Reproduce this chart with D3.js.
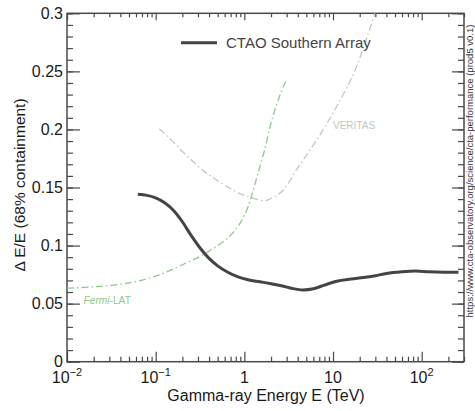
<!DOCTYPE html>
<html>
<head>
<meta charset="utf-8">
<script src="https://cdn.jsdelivr.net/npm/d3@7"></script>
<style>
  html, body { margin: 0; padding: 0; background: #fff; }
  svg { display: block; font-family: "Liberation Sans", Arial, sans-serif; }
</style>
</head>
<body>
<svg id="chart" width="475" height="411"></svg>
<script>
// ---------- data ----------
const ctaoEnergy = [0.063, 0.08, 0.1, 0.125, 0.16, 0.2, 0.25, 0.32, 0.4, 0.5, 0.65, 0.85, 1.1, 1.5, 2.0, 2.7, 3.5, 4.6, 6.0, 8.0, 11, 16, 22, 30, 40, 60, 85, 120, 180, 260];
const ctaoRes    = [0.1441, 0.1432, 0.1410, 0.1370, 0.1300, 0.1205, 0.1090, 0.0975, 0.0890, 0.0825, 0.0770, 0.0730, 0.0705, 0.0688, 0.0672, 0.0652, 0.0630, 0.0618, 0.0628, 0.0660, 0.0693, 0.0712, 0.0725, 0.0740, 0.0760, 0.0775, 0.0781, 0.0775, 0.0771, 0.0770];

const fermiEnergy = [0.01, 0.02, 0.035, 0.05, 0.08, 0.11, 0.16, 0.22, 0.28, 0.38, 0.5, 0.63, 0.8, 0.9, 1.0, 1.1, 1.2, 1.38, 1.5, 1.7, 1.95, 2.4, 2.94];
const fermiRes    = [0.0633, 0.0645, 0.0662, 0.0678, 0.0715, 0.0748, 0.0800, 0.0850, 0.0885, 0.0940, 0.1000, 0.1055, 0.1140, 0.1195, 0.1260, 0.1335, 0.1420, 0.1585, 0.1680, 0.1830, 0.2024, 0.2250, 0.2420];

const veritasEnergy = [0.11, 0.15, 0.2, 0.265, 0.35, 0.487, 0.7, 0.9, 1.156, 1.5, 1.7, 2.0, 2.75, 4.0, 6.53, 10.96, 18.4, 29.6];
const veritasRes    = [0.2003, 0.1910, 0.1810, 0.1722, 0.1640, 0.1565, 0.1490, 0.1445, 0.1416, 0.1392, 0.1386, 0.1405, 0.1479, 0.1670, 0.1909, 0.2196, 0.2540, 0.3000];

const xMajorTicks = [0.01, 0.1, 1, 10, 100];
const xTickBase   = ["10", "10", "1", "10", "10"];
const xTickExp    = ["\u22122", "\u22121", "", "", "2"];
const xMinorTicks = [];
[0.01, 0.1, 1, 10, 100].forEach(d => { for (let k = 2; k <= 9; k++) if (d * k <= 300) xMinorTicks.push(d * k); });

const yMajorTicks = [0, 0.05, 0.1, 0.15, 0.2, 0.25, 0.3];
const yTickLabels = ["0", "0.05", "0.1", "0.15", "0.2", "0.25", "0.3"];
const yMinorTicks = d3.range(0, 0.3001, 0.01).map(v => +v.toFixed(2));

const legendLabel = "CTAO Southern Array";
const xTitle = "Gamma-ray Energy E (TeV)";
const yTitle = "\u0394 E/E (68% containment)";
const sourceNote = "https://www.cta-observatory.org/science/cta-performance (prod5 v0.1)";

// ---------- layout ----------
const L = 67, R = 464, T = 13.3, B = 361.7;
const svg = d3.select("#chart");
const x = d3.scaleLog().domain([0.01, 300]).range([L, R]);
const y = d3.scaleLinear().domain([0, 0.3]).range([B, T]);

const axisColor = "#4a4a4a";

// clip
svg.append("clipPath").attr("id", "clip")
  .append("rect").attr("x", L).attr("y", T).attr("width", R - L).attr("height", B - T);

// axes (ticks inward)
function styleAxis(g) {
  g.select(".domain").remove();
  g.selectAll("line").attr("stroke", axisColor).attr("stroke-width", 1.2);
  g.selectAll("text").remove();
}
svg.append("g").attr("transform", `translate(0,${B})`)
  .call(d3.axisBottom(x).tickValues(xMajorTicks).tickSize(-10).tickFormat("")).call(styleAxis);
svg.append("g").attr("transform", `translate(0,${B})`)
  .call(d3.axisBottom(x).tickValues(xMinorTicks).tickSize(-5).tickFormat("")).call(styleAxis);
svg.append("g").attr("transform", `translate(0,${T})`)
  .call(d3.axisTop(x).tickValues(xMajorTicks).tickSize(-7).tickFormat("")).call(styleAxis);
svg.append("g").attr("transform", `translate(0,${T})`)
  .call(d3.axisTop(x).tickValues(xMinorTicks).tickSize(-4).tickFormat("")).call(styleAxis);
svg.append("g").attr("transform", `translate(${L},0)`)
  .call(d3.axisLeft(y).tickValues(yMajorTicks).tickSize(-13).tickFormat("")).call(styleAxis);
svg.append("g").attr("transform", `translate(${L},0)`)
  .call(d3.axisLeft(y).tickValues(yMinorTicks).tickSize(-6).tickFormat("")).call(styleAxis);
svg.append("g").attr("transform", `translate(${R},0)`)
  .call(d3.axisRight(y).tickValues(yMajorTicks).tickSize(-12).tickFormat("")).call(styleAxis);
svg.append("g").attr("transform", `translate(${R},0)`)
  .call(d3.axisRight(y).tickValues(yMinorTicks).tickSize(-6).tickFormat("")).call(styleAxis);

// frame
svg.append("rect").attr("x", L).attr("y", T).attr("width", R - L).attr("height", B - T)
  .attr("fill", "none").attr("stroke", axisColor).attr("stroke-width", 1.5);

// tick labels
svg.append("g").selectAll("text").data(yMajorTicks).join("text")
  .attr("x", L - 4).attr("y", d => y(d)).attr("dy", "0.35em")
  .attr("text-anchor", "end").attr("font-size", 16).attr("fill", "#1a1a1a")
  .text((d, i) => yTickLabels[i]);

const xl = svg.append("g").selectAll("text").data(xMajorTicks).join("text")
  .attr("x", d => x(d)).attr("y", 383)
  .attr("text-anchor", "middle").attr("font-size", 16).attr("fill", "#1a1a1a");
xl.append("tspan").text((d, i) => xTickBase[i]);
xl.append("tspan").attr("dy", -7).attr("font-size", 11).text((d, i) => xTickExp[i]);

// titles
svg.append("text").attr("x", 266).attr("y", 401).attr("text-anchor", "middle")
  .attr("font-size", 16).attr("fill", "#1a1a1a").text(xTitle);
svg.append("text").attr("transform", "translate(25,185) rotate(-90)").attr("text-anchor", "middle")
  .attr("font-size", 15.5).attr("fill", "#1a1a1a").text(yTitle);
svg.append("text").attr("transform", "translate(473,171) rotate(-90)").attr("text-anchor", "middle")
  .attr("font-size", 9.5).attr("fill", "#333").text(sourceNote);

// curves
const line = (xs, ys) => d3.line().curve(d3.curveMonotoneX)
  .x((d, i) => x(xs[i])).y((d, i) => y(ys[i]))(xs);
const plot = svg.append("g").attr("clip-path", "url(#clip)");

plot.append("path").attr("d", line(veritasEnergy, veritasRes))
  .attr("fill", "none").attr("stroke", "#bccabf").attr("stroke-width", 1.3)
  .attr("stroke-dasharray", "7,3,1.5,3");
plot.append("path").attr("d", line(fermiEnergy, fermiRes))
  .attr("fill", "none").attr("stroke", "#8fc78f").attr("stroke-width", 1.3)
  .attr("stroke-dasharray", "7,3,1.5,3");
plot.append("path").attr("d", line(ctaoEnergy, ctaoRes))
  .attr("fill", "none").attr("stroke", "#444").attr("stroke-width", 3);

// curve labels
const fl = svg.append("text").attr("x", 83.5).attr("y", 304).attr("font-size", 10.2).attr("fill", "#8fc78f");
fl.append("tspan").attr("font-style", "italic").text("Fermi");
fl.append("tspan").text("-LAT");
svg.append("text").attr("x", 333).attr("y", 129).attr("font-size", 10).attr("fill", "#bccabf").text("VERITAS");

// legend
svg.append("line").attr("x1", 181).attr("x2", 217).attr("y1", 42.7).attr("y2", 42.7)
  .attr("stroke", "#444").attr("stroke-width", 3);
svg.append("text").attr("x", 226).attr("y", 42.7).attr("dy", "0.35em")
  .attr("font-size", 15).attr("fill", "#444").text(legendLabel);
</script>
</body>
</html>
